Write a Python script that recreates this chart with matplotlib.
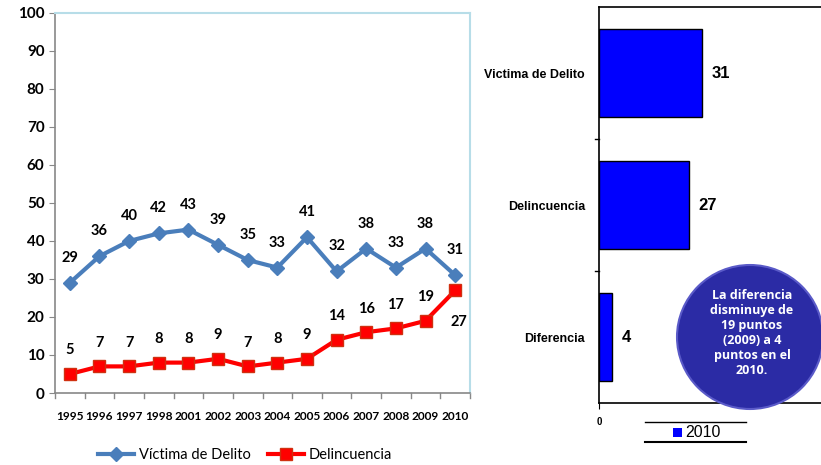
import matplotlib
matplotlib.use("Agg")
import matplotlib.pyplot as plt
from matplotlib.patches import Ellipse, Rectangle
from matplotlib.lines import Line2D

years = ["1995", "1996", "1997", "1998", "2001", "2002", "2003", "2004",
         "2005", "2006", "2007", "2008", "2009", "2010"]
victima = [29, 36, 40, 42, 43, 39, 35, 33, 41, 32, 38, 33, 38, 31]
delincuencia = [5, 7, 7, 8, 8, 9, 7, 8, 9, 14, 16, 17, 19, 27]

bar_cats = ["Victima de Delito", "Delincuencia", "Diferencia"]
bar_vals = [31, 27, 4]
bar_year = "2010"

W, H = 821, 465
fig = plt.figure(figsize=(W / 100, H / 100), dpi=100)
fig.patch.set_facecolor("white")

def ax_rect(l, t, r, b):
    return [l / W, (H - b) / H, (r - l) / W, (b - t) / H]

font_c = ["Lato", "DejaVu Sans"]
font_a = ["Liberation Sans", "DejaVu Sans"]

# ---------- Left line chart ----------
ax = fig.add_axes(ax_rect(55, 13, 470, 393))
x = list(range(len(years)))
blue = "#4a7ebb"
red = "#ff0000"
l1, = ax.plot(x, victima, color=blue, lw=3, marker="D", ms=7,
              mfc=blue, mec=blue, label="Víctima de Delito", zorder=3)
l2, = ax.plot(x, delincuencia, color=red, lw=3, marker="s", ms=9,
              mfc=red, mec="#d03010", label="Delincuencia", zorder=3)
ax.set_xlim(-0.5, len(years) - 0.5)
ax.set_ylim(0, 100)
ax.set_yticks(range(0, 101, 10))
ax.set_xticks(x)
ax.set_xticklabels(years, fontsize=8.6, fontweight="bold", family=font_c)
ax.tick_params(axis="x", length=0, pad=13)
for t in [i - 0.5 for i in range(len(years) + 1)]:
    ax.plot([t, t], [0, -1.2], color="#888888", lw=1, clip_on=False)
ax.tick_params(axis="y", length=4, color="#888888", labelsize=11)
for lab in ax.get_yticklabels():
    lab.set_fontweight("bold")
    lab.set_family(font_c)
for s in ["left", "bottom"]:
    ax.spines[s].set_color("#888888")
    ax.spines[s].set_linewidth(1.2)
for s in ["top", "right"]:
    ax.spines[s].set_color("#b7dde8")
    ax.spines[s].set_linewidth(1.5)

for xi, v in zip(x, victima):
    ax.annotate(str(v), (xi, v), xytext=(0, 13), textcoords="offset points",
                ha="center", va="bottom", fontsize=10.5, fontweight="bold",
                family=font_c)
for xi, v in zip(x, delincuencia):
    if xi == len(x) - 1:
        ax.annotate(str(v), (xi, v), xytext=(3, -18), textcoords="offset points",
                    ha="center", va="top", fontsize=10.5, fontweight="bold",
                    family=font_c)
    else:
        ax.annotate(str(v), (xi, v), xytext=(0, 12), textcoords="offset points",
                    ha="center", va="bottom", fontsize=10.5, fontweight="bold",
                    family=font_c)

fig.legend(handles=[l1, l2], loc="center", bbox_to_anchor=(245 / W, 1 - 455 / H),
           ncol=2, frameon=False, prop={"family": font_c, "size": 10.5},
           handlelength=2.5, columnspacing=1.2, handletextpad=0.3)

# ---------- Right bar chart ----------
bx = fig.add_axes(ax_rect(599, 7, 821, 403))
ypos = list(range(len(bar_cats)))
bx.barh(ypos, bar_vals, height=0.67, color="#0000ff", edgecolor="black", lw=1)
bx.set_ylim(len(bar_cats) - 0.5, -0.5)
bx.set_xlim(0, 222 / 3.32)
bx.set_yticks(ypos)
bx.set_yticklabels(bar_cats, fontsize=9, family=font_a, fontweight="bold")
bx.tick_params(axis="y", length=0, pad=10)
for t in [0.5, 1.5]:
    bx.plot([-1.2, 0], [t, t], color="black", lw=1, clip_on=False)
bx.set_xticks([0])
bx.set_xticklabels(["0"], fontsize=7, fontweight="bold", family=font_a)
bx.tick_params(axis="x", length=4, pad=6)
for s in ["top", "bottom", "left"]:
    bx.spines[s].set_color("black")
    bx.spines[s].set_linewidth(1.2)
bx.spines["right"].set_visible(False)
for yi, v in zip(ypos, bar_vals):
    bx.text(v + 3, yi, str(v), ha="left", va="center", fontsize=12,
            fontweight="bold", family=font_a)

# legend for bar chart
fig.add_artist(Line2D([645 / W, 746 / W], [1 - 422 / H, 1 - 422 / H], color="black", lw=1))
fig.add_artist(Line2D([645 / W, 746 / W], [1 - 442 / H, 1 - 442 / H], color="black", lw=1.5))
fig.add_artist(Rectangle((673 / W, 1 - 437 / H), 9 / W, 9 / H, facecolor="#0000ff",
                         edgecolor="none", transform=fig.transFigure))
fig.text(685 / W, 1 - 432 / H, bar_year, fontsize=11.5, ha="left", va="center",
         family=font_a)

# callout ellipse
fig.add_artist(Ellipse((750 / W, 1 - 337 / H), 146 / W, 144 / H,
                       facecolor="#2b2ba5", edgecolor="#5a5ac8", lw=1.5,
                       transform=fig.transFigure, zorder=5))
fig.text(752 / W, 1 - 333 / H,
         "La diferencia\ndisminuye de\n19 puntos\n(2009) a 4\npuntos en el\n2010.",
         color="white", fontsize=9, fontweight="bold", ha="center", va="center",
         family=["Open Sans", "DejaVu Sans"], linespacing=1.2, zorder=6)

fig.savefig("out.png", dpi=100)
